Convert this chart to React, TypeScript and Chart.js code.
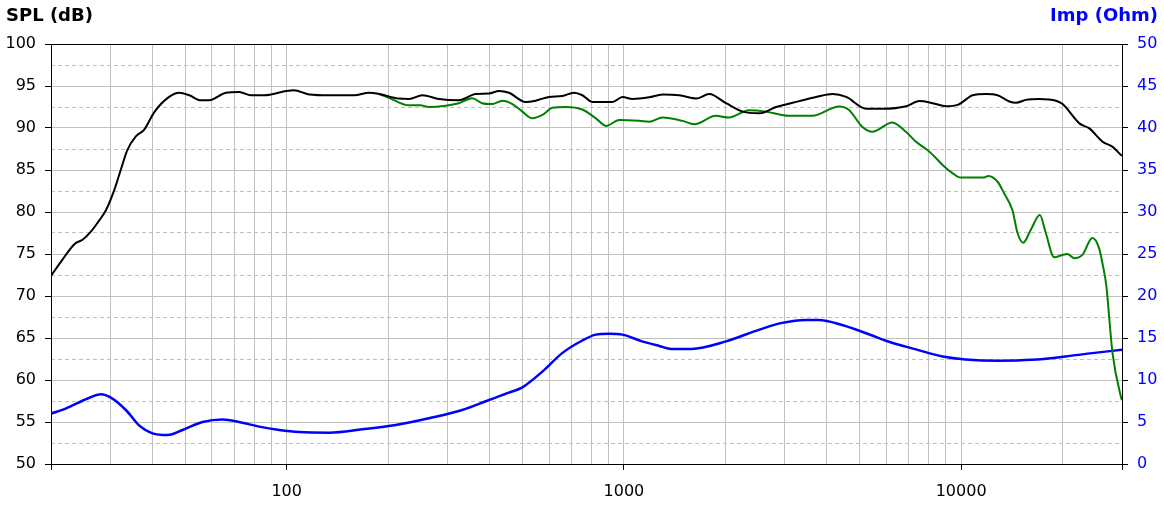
import React, { useEffect, useRef } from 'react';
import { Chart, registerables } from 'chart.js';

Chart.register(...registerables);

// On-axis SPL (black)
const splFreq = [20, 21.6, 23.5, 24.8, 26.3, 27.8, 29.1, 30.8, 32.2, 33.7, 35.7, 37.8, 40.5, 44.8, 48, 51.4, 55.7, 58.9, 66, 72.3, 78.3, 85.8, 99.5, 105, 116.6, 133.7, 158.6, 175.5, 188, 215, 230.6, 252.5, 283, 324, 363.6, 398, 426, 456, 511, 547, 599, 656, 711, 753, 806, 925, 990, 1060, 1188, 1303, 1459, 1637, 1792, 2009, 2250, 2523, 2827, 3315, 3717, 4161, 4562, 5228, 5858, 6874, 7522, 8240, 9023, 9770, 10820, 11850, 12830, 13900, 14550, 15570, 17060, 19110, 20000, 22420, 24000, 26300, 28150, 29780, 30000];
const splDb = [72.4, 74.3, 76.2, 76.7, 77.7, 79.0, 80.2, 82.6, 85.0, 87.4, 89.0, 89.8, 91.9, 93.7, 94.2, 93.9, 93.3, 93.3, 94.2, 94.3, 93.9, 93.9, 94.4, 94.5, 94.0, 93.9, 93.9, 94.2, 94.05, 93.5, 93.45, 93.9, 93.45, 93.3, 94.05, 94.1, 94.4, 94.2, 93.1, 93.25, 93.7, 93.8, 94.2, 93.9, 93.1, 93.1, 93.7, 93.45, 93.65, 94.0, 93.9, 93.5, 94.05, 92.95, 91.95, 91.75, 92.5, 93.2, 93.7, 94.05, 93.7, 92.3, 92.3, 92.6, 93.2, 92.95, 92.6, 92.75, 93.9, 94.05, 93.9, 93.15, 93.0, 93.35, 93.45, 93.25, 92.85, 90.55, 89.95, 88.35, 87.75, 86.8, 86.7];

// Off-axis SPL (green)
const offFreq = [188, 201, 230.6, 249, 264, 296, 324, 355, 380, 407, 436, 467, 500, 535, 573, 614, 672, 753, 826, 885, 969, 1111, 1188, 1303, 1493, 1616, 1874, 2049, 2350, 2633, 3086, 3620, 4344, 4650, 5090, 5453, 6250, 6860, 7350, 7930, 8432, 8810, 9446, 9970, 11700, 12050, 12830, 13420, 14200, 14700, 15280, 16100, 17120, 17830, 18880, 20000, 20660, 21620, 22890, 24500, 25650, 26370, 26980, 27480, 28120, 29780, 30000];
const offDb = [94.05, 93.6, 92.7, 92.7, 92.5, 92.65, 92.95, 93.55, 92.95, 92.85, 93.25, 92.85, 91.95, 91.15, 91.55, 92.4, 92.5, 92.2, 91.15, 90.25, 90.95, 90.85, 90.75, 91.25, 90.85, 90.45, 91.45, 91.25, 92.1, 91.95, 91.45, 91.45, 92.55, 92.15, 90.15, 89.55, 90.65, 89.55, 88.35, 87.4, 86.4, 85.6, 84.6, 84.1, 84.1, 84.3, 83.6, 82.2, 80.2, 77.5, 76.35, 77.9, 79.65, 77.5, 74.6, 74.9, 75.0, 74.5, 74.9, 76.9, 75.7, 73.5, 71.1, 67.5, 63.2, 58.0, 57.6];

// Impedance (blue)
const impFreq = [20, 22.1, 25.7, 28.1, 30.1, 33.4, 36.5, 40, 44.4, 49.1, 56.3, 64.5, 72.3, 82.8, 95, 109, 133.7, 167.7, 210.6, 264, 331.6, 398, 456, 500, 573, 656, 753, 826, 904, 990, 1132, 1274, 1382, 1585, 2009, 2523, 2946, 3456, 3786, 4440, 5326, 6110, 7350, 8810, 10300, 12940, 16230, 20390, 24500, 30000];
const impOhm = [6.0, 6.6, 7.8, 8.3, 7.9, 6.4, 4.6, 3.65, 3.45, 4.05, 5.0, 5.3, 5.0, 4.45, 4.05, 3.8, 3.73, 4.13, 4.64, 5.44, 6.43, 7.62, 8.49, 9.13, 11.0, 13.2, 14.7, 15.4, 15.5, 15.4, 14.6, 14.05, 13.7, 13.7, 14.6, 16.0, 16.8, 17.15, 17.15, 16.55, 15.45, 14.56, 13.65, 12.8, 12.45, 12.3, 12.4, 12.8, 13.2, 13.6];

const xGridTicks = [20, 30, 40, 50, 60, 70, 80, 90, 100, 200, 300, 400, 500, 600, 700, 800, 900, 1000, 2000, 3000, 4000, 5000, 6000, 7000, 8000, 9000, 10000, 20000, 30000];
const xLabelTicks = [100, 1000, 10000];
const xMarkTicks = [20, 100, 1000, 10000, 30000];
const splTicks = [50, 55, 60, 65, 70, 75, 80, 85, 90, 95, 100];
const splMinorTicks = [52.5, 57.5, 62.5, 67.5, 72.5, 77.5, 82.5, 87.5, 92.5, 97.5];
const impTicks = [0, 5, 10, 15, 20, 25, 30, 35, 40, 45, 50];

const leftTitle = 'SPL (dB)';
const rightTitle = 'Imp (Ohm)';

const FONT = '"DejaVu Sans", Verdana, sans-serif';
const GRID = '#c0c0c0';
const BLUE = '#0000ff';

const toPoints = (xs: number[], ys: number[]) => xs.map((x, i) => ({ x, y: ys[i] }));

export default function App() {
  const ref = useRef<HTMLCanvasElement | null>(null);

  useEffect(() => {
    document.body.style.margin = '0';
    const canvas = ref.current;
    if (!canvas) return;

    const framePlugin = {
      id: 'frame',
      beforeDatasetsDraw(chart: any) {
        const { ctx, chartArea } = chart;
        ctx.save();
        ctx.strokeStyle = '#000';
        ctx.lineWidth = 1;
        ctx.beginPath();
        ctx.moveTo(chartArea.left, chartArea.top + 0.5);
        ctx.lineTo(chartArea.right, chartArea.top + 0.5);
        ctx.stroke();
        ctx.restore();
      },
      afterDraw(chart: any) {
        const { ctx } = chart;
        ctx.save();
        ctx.font = `bold 18px ${FONT}`;
        ctx.textBaseline = 'alphabetic';
        ctx.fillStyle = '#000';
        ctx.textAlign = 'left';
        ctx.fillText(leftTitle, 6, 21);
        ctx.fillStyle = BLUE;
        ctx.textAlign = 'right';
        ctx.fillText(rightTitle, 1158, 21);
        ctx.restore();
      },
    };

    const tickFont = { family: FONT, size: 16 };

    const chart = new Chart(canvas, {
      type: 'line',
      data: {
        datasets: [
          {
            label: 'SPL',
            data: toPoints(splFreq, splDb),
            borderColor: '#000000',
            borderWidth: 2,
            pointRadius: 0,
            cubicInterpolationMode: 'monotone',
            xAxisID: 'x',
            yAxisID: 'y',
          },
          {
            label: 'SPL off-axis',
            data: toPoints(offFreq, offDb),
            borderColor: '#008000',
            borderWidth: 2,
            pointRadius: 0,
            cubicInterpolationMode: 'monotone',
            xAxisID: 'x',
            yAxisID: 'y',
          },
          {
            label: 'Impedance',
            data: toPoints(impFreq, impOhm),
            borderColor: BLUE,
            borderWidth: 2.5,
            pointRadius: 0,
            cubicInterpolationMode: 'monotone',
            xAxisID: 'x',
            yAxisID: 'y2',
          },
        ],
      },
      options: {
        responsive: false,
        animation: false,
        devicePixelRatio: 1,
        parsing: true,
        layout: { padding: { top: 44, left: 0, right: 0, bottom: 0 } },
        plugins: {
          legend: { display: false },
          tooltip: { enabled: false },
          title: { display: false },
        },
        scales: {
          x: {
            type: 'logarithmic',
            position: 'bottom',
            min: 20,
            max: 30000,
            afterBuildTicks: (s: any) => {
              s.ticks = xGridTicks.map((v) => ({ value: v }));
            },
            afterFit: (s: any) => {
              s.height = 43;
            },
            ticks: {
              autoSkip: false,
              maxRotation: 0,
              minRotation: 0,
              padding: 12,
              color: '#000',
              font: tickFont,
              callback: (v: any) => (xLabelTicks.includes(Number(v)) ? String(v) : ''),
            },
            grid: {
              color: GRID,
              lineWidth: 1,
              tickLength: 6,
              tickColor: (ctx: any) =>
                ctx.tick && xMarkTicks.includes(ctx.tick.value) ? '#000' : 'rgba(0,0,0,0)',
            },
            border: { display: true, color: '#000', width: 1 },
          },
          y: {
            type: 'linear',
            position: 'left',
            min: 50,
            max: 100,
            afterBuildTicks: (s: any) => {
              s.ticks = splTicks.map((v) => ({ value: v }));
            },
            afterFit: (s: any) => {
              s.width = 51;
            },
            ticks: { padding: 9, color: '#000', font: tickFont },
            grid: { color: GRID, lineWidth: 1, tickLength: 6, tickColor: '#000' },
            border: { display: true, color: '#000', width: 1 },
          },
          yMinor: {
            type: 'linear',
            position: 'left',
            min: 50,
            max: 100,
            afterBuildTicks: (s: any) => {
              s.ticks = splMinorTicks.map((v) => ({ value: v }));
            },
            afterFit: (s: any) => {
              s.width = 0;
            },
            ticks: { display: false },
            grid: { color: GRID, lineWidth: 1, drawTicks: false },
            border: { display: false, dash: [4, 3] },
          },
          y2: {
            type: 'linear',
            position: 'right',
            min: 0,
            max: 50,
            afterBuildTicks: (s: any) => {
              s.ticks = impTicks.map((v) => ({ value: v }));
            },
            afterFit: (s: any) => {
              s.width = 42;
            },
            ticks: { padding: 9, color: BLUE, font: tickFont },
            grid: { drawOnChartArea: false, tickLength: 6, tickColor: '#000' },
            border: { display: true, color: '#000', width: 1 },
          },
        },
      },
      plugins: [framePlugin],
    } as any);

    return () => {
      chart.destroy();
    };
  }, []);

  return (
    <div style={{ position: 'relative', width: 1164, height: 507, background: '#fff' }}>
      <canvas ref={ref} width={1164} height={507} style={{ display: 'block' }} />
    </div>
  );
}
